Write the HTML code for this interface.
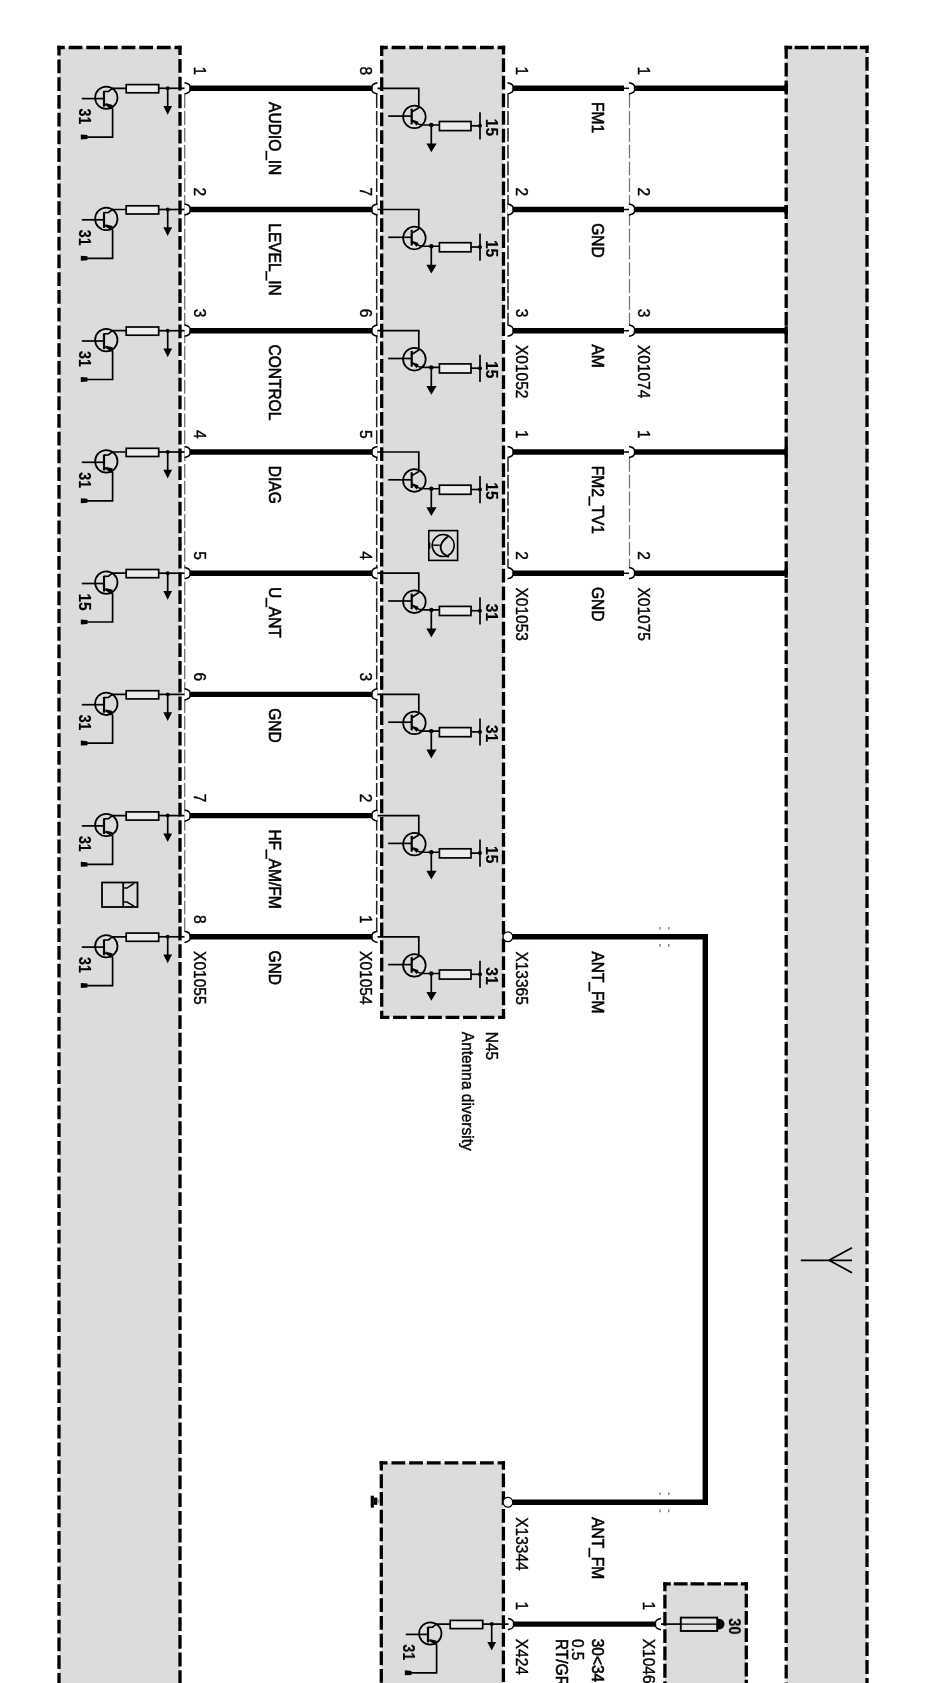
<!DOCTYPE html>
<html><head><meta charset="utf-8"><title>Antenna diversity wiring diagram</title>
<style>
html,body{margin:0;padding:0;background:#fff;}
body{width:937px;height:1683px;overflow:hidden;}
svg{display:block;font-family:"Liberation Sans",sans-serif;will-change:transform;}
</style></head><body>
<svg width="937" height="1683" viewBox="0 0 937 1683">
<defs><filter id="soft" x="0" y="0" width="937" height="1683" filterUnits="userSpaceOnUse"><feGaussianBlur stdDeviation="0.45"/></filter></defs>
<rect x="0" y="0" width="937" height="1683" fill="#fff"/>
<g stroke="#000" fill="none" filter="url(#soft)">
<rect x="59" y="47.5" width="121.00" height="1652.50" fill="#dcdcdc" stroke="none"/>
<line x1="59.00" y1="45.85" x2="59.00" y2="1700.00" stroke-width="3.3" stroke-dasharray="13.8 3.930" stroke-dashoffset="4.115"/>
<line x1="180.00" y1="45.85" x2="180.00" y2="1700.00" stroke-width="3.3" stroke-dasharray="13.8 3.907" stroke-dashoffset="4.604"/>
<line x1="57.35" y1="47.50" x2="181.65" y2="47.50" stroke-width="3.3" stroke-dasharray="13.8 3.850" stroke-dashoffset="6.375"/>
<rect x="381.7" y="47.5" width="121.80" height="969.90" fill="#dcdcdc" stroke="none"/>
<line x1="381.70" y1="45.85" x2="381.70" y2="1019.05" stroke-width="3.3" stroke-dasharray="13.8 3.810" stroke-dashoffset="3.755"/>
<line x1="503.50" y1="45.85" x2="503.50" y2="1019.05" stroke-width="3.3" stroke-dasharray="13.8 3.807" stroke-dashoffset="5.254"/>
<line x1="380.05" y1="47.50" x2="505.15" y2="47.50" stroke-width="3.3" stroke-dasharray="13.8 3.870" stroke-dashoffset="6.085"/>
<line x1="380.05" y1="1017.40" x2="505.15" y2="1017.40" stroke-width="3.3" stroke-dasharray="13.8 3.700" stroke-dashoffset="4.500"/>
<rect x="786.2" y="47.5" width="80.80" height="1652.50" fill="#dcdcdc" stroke="none"/>
<line x1="786.20" y1="45.85" x2="786.20" y2="1700.00" stroke-width="3.3" stroke-dasharray="13.8 4.000" stroke-dashoffset="0.850"/>
<line x1="867.00" y1="45.85" x2="867.00" y2="1700.00" stroke-width="3.3" stroke-dasharray="13.8 4.013" stroke-dashoffset="6.757"/>
<line x1="784.55" y1="47.50" x2="868.65" y2="47.50" stroke-width="3.3" stroke-dasharray="13.8 2.500" stroke-dashoffset="6.200"/>
<rect x="381.3" y="1462.8" width="122.10" height="237.20" fill="#dcdcdc" stroke="none"/>
<line x1="381.30" y1="1461.15" x2="381.30" y2="1700.00" stroke-width="3.3" stroke-dasharray="13.8 3.900" stroke-dashoffset="4.500"/>
<line x1="503.40" y1="1461.15" x2="503.40" y2="1700.00" stroke-width="3.3" stroke-dasharray="13.8 3.900" stroke-dashoffset="5.300"/>
<line x1="379.65" y1="1462.80" x2="505.05" y2="1462.80" stroke-width="3.3" stroke-dasharray="13.8 3.900" stroke-dashoffset="5.900"/>
<rect x="664.9" y="1583.8" width="81.40" height="116.20" fill="#dcdcdc" stroke="none"/>
<line x1="664.90" y1="1582.15" x2="664.90" y2="1700.00" stroke-width="3.3" stroke-dasharray="13.8 3.500" stroke-dashoffset="4.800"/>
<line x1="746.30" y1="1582.15" x2="746.30" y2="1700.00" stroke-width="3.3" stroke-dasharray="13.8 3.400" stroke-dashoffset="5.550"/>
<line x1="663.25" y1="1583.80" x2="747.95" y2="1583.80" stroke-width="3.3" stroke-dasharray="13.8 2.950" stroke-dashoffset="6.225"/>
<line x1="184.7" y1="94.3" x2="184.7" y2="930.8" stroke="#777" stroke-width="1.3" stroke-dasharray="13.8 3"/>
<line x1="376.7" y1="94.3" x2="376.7" y2="930.8" stroke="#222" stroke-width="1.5" stroke-dasharray="13.8 3"/>
<line x1="508" y1="94.3" x2="508" y2="324.7" stroke="#222" stroke-width="1.5" stroke-dasharray="13.8 3"/>
<line x1="508" y1="458" x2="508" y2="567.2" stroke="#222" stroke-width="1.5" stroke-dasharray="13.8 3"/>
<line x1="629.5" y1="94.3" x2="629.5" y2="324.7" stroke="#777" stroke-width="1.3" stroke-dasharray="13.8 3"/>
<line x1="629.5" y1="458" x2="629.5" y2="567.2" stroke="#777" stroke-width="1.3" stroke-dasharray="13.8 3"/>
<line x1="189.5" y1="88.3" x2="373.0" y2="88.3" stroke-width="5.4"/>
<path d="M184.5,82.7 Q191.0,83.8 190.0,88.3 Q191.0,92.8 184.5,93.9" fill="#fff" stroke-width="1.5"/>
<path d="M377.5,82.7 Q371.0,83.8 372.0,88.3 Q371.0,92.8 377.5,93.9" fill="#fff" stroke-width="1.5"/>
<line x1="189.5" y1="209.5" x2="373.0" y2="209.5" stroke-width="5.4"/>
<path d="M184.5,203.9 Q191.0,205.0 190.0,209.5 Q191.0,214.0 184.5,215.1" fill="#fff" stroke-width="1.5"/>
<path d="M377.5,203.9 Q371.0,205.0 372.0,209.5 Q371.0,214.0 377.5,215.1" fill="#fff" stroke-width="1.5"/>
<line x1="189.5" y1="330.7" x2="373.0" y2="330.7" stroke-width="5.4"/>
<path d="M184.5,325.1 Q191.0,326.2 190.0,330.7 Q191.0,335.2 184.5,336.3" fill="#fff" stroke-width="1.5"/>
<path d="M377.5,325.1 Q371.0,326.2 372.0,330.7 Q371.0,335.2 377.5,336.3" fill="#fff" stroke-width="1.5"/>
<line x1="189.5" y1="452.0" x2="373.0" y2="452.0" stroke-width="5.4"/>
<path d="M184.5,446.4 Q191.0,447.5 190.0,452.0 Q191.0,456.5 184.5,457.6" fill="#fff" stroke-width="1.5"/>
<path d="M377.5,446.4 Q371.0,447.5 372.0,452.0 Q371.0,456.5 377.5,457.6" fill="#fff" stroke-width="1.5"/>
<line x1="189.5" y1="573.2" x2="373.0" y2="573.2" stroke-width="5.4"/>
<path d="M184.5,567.6 Q191.0,568.7 190.0,573.2 Q191.0,577.7 184.5,578.8" fill="#fff" stroke-width="1.5"/>
<path d="M377.5,567.6 Q371.0,568.7 372.0,573.2 Q371.0,577.7 377.5,578.8" fill="#fff" stroke-width="1.5"/>
<line x1="189.5" y1="694.4" x2="373.0" y2="694.4" stroke-width="5.4"/>
<path d="M184.5,688.8 Q191.0,689.9 190.0,694.4 Q191.0,698.9 184.5,700.0" fill="#fff" stroke-width="1.5"/>
<path d="M377.5,688.8 Q371.0,689.9 372.0,694.4 Q371.0,698.9 377.5,700.0" fill="#fff" stroke-width="1.5"/>
<line x1="189.5" y1="815.6" x2="373.0" y2="815.6" stroke-width="5.4"/>
<path d="M184.5,810.0 Q191.0,811.1 190.0,815.6 Q191.0,820.1 184.5,821.2" fill="#fff" stroke-width="1.5"/>
<path d="M377.5,810.0 Q371.0,811.1 372.0,815.6 Q371.0,820.1 377.5,821.2" fill="#fff" stroke-width="1.5"/>
<line x1="189.5" y1="936.8" x2="373.0" y2="936.8" stroke-width="5.4"/>
<path d="M184.5,931.2 Q191.0,932.3 190.0,936.8 Q191.0,941.3 184.5,942.4" fill="#fff" stroke-width="1.5"/>
<path d="M377.5,931.2 Q371.0,932.3 372.0,936.8 Q371.0,941.3 377.5,942.4" fill="#fff" stroke-width="1.5"/>
<line x1="512.0" y1="88.3" x2="624.0" y2="88.3" stroke-width="5.4"/>
<line x1="634.2" y1="88.3" x2="786.0" y2="88.3" stroke-width="5.4"/>
<path d="M507.5,82.7 Q514.0,83.8 513.0,88.3 Q514.0,92.8 507.5,93.9" fill="#fff" stroke-width="1.5"/>
<line x1="624.0" y1="88.3" x2="629.0" y2="88.3" stroke-width="1.5"/>
<path d="M629.0,82.7 Q635.5,83.8 634.5,88.3 Q635.5,92.8 629.0,93.9" fill="#fff" stroke-width="1.5"/>
<line x1="786.2" y1="83.8" x2="786.2" y2="92.8" stroke-width="3.3"/>
<line x1="512.0" y1="209.5" x2="624.0" y2="209.5" stroke-width="5.4"/>
<line x1="634.2" y1="209.5" x2="786.0" y2="209.5" stroke-width="5.4"/>
<path d="M507.5,203.9 Q514.0,205.0 513.0,209.5 Q514.0,214.0 507.5,215.1" fill="#fff" stroke-width="1.5"/>
<line x1="624.0" y1="209.5" x2="629.0" y2="209.5" stroke-width="1.5"/>
<path d="M629.0,203.9 Q635.5,205.0 634.5,209.5 Q635.5,214.0 629.0,215.1" fill="#fff" stroke-width="1.5"/>
<line x1="786.2" y1="205.0" x2="786.2" y2="214.0" stroke-width="3.3"/>
<line x1="512.0" y1="330.7" x2="624.0" y2="330.7" stroke-width="5.4"/>
<line x1="634.2" y1="330.7" x2="786.0" y2="330.7" stroke-width="5.4"/>
<path d="M507.5,325.1 Q514.0,326.2 513.0,330.7 Q514.0,335.2 507.5,336.3" fill="#fff" stroke-width="1.5"/>
<line x1="624.0" y1="330.7" x2="629.0" y2="330.7" stroke-width="1.5"/>
<path d="M629.0,325.1 Q635.5,326.2 634.5,330.7 Q635.5,335.2 629.0,336.3" fill="#fff" stroke-width="1.5"/>
<line x1="786.2" y1="326.2" x2="786.2" y2="335.2" stroke-width="3.3"/>
<line x1="512.0" y1="452.0" x2="624.0" y2="452.0" stroke-width="5.4"/>
<line x1="634.2" y1="452.0" x2="786.0" y2="452.0" stroke-width="5.4"/>
<path d="M507.5,446.4 Q514.0,447.5 513.0,452.0 Q514.0,456.5 507.5,457.6" fill="#fff" stroke-width="1.5"/>
<line x1="624.0" y1="452.0" x2="629.0" y2="452.0" stroke-width="1.5"/>
<path d="M629.0,446.4 Q635.5,447.5 634.5,452.0 Q635.5,456.5 629.0,457.6" fill="#fff" stroke-width="1.5"/>
<line x1="786.2" y1="447.5" x2="786.2" y2="456.5" stroke-width="3.3"/>
<line x1="512.0" y1="573.2" x2="624.0" y2="573.2" stroke-width="5.4"/>
<line x1="634.2" y1="573.2" x2="786.0" y2="573.2" stroke-width="5.4"/>
<path d="M507.5,567.6 Q514.0,568.7 513.0,573.2 Q514.0,577.7 507.5,578.8" fill="#fff" stroke-width="1.5"/>
<line x1="624.0" y1="573.2" x2="629.0" y2="573.2" stroke-width="1.5"/>
<path d="M629.0,567.6 Q635.5,568.7 634.5,573.2 Q635.5,577.7 629.0,578.8" fill="#fff" stroke-width="1.5"/>
<line x1="786.2" y1="568.7" x2="786.2" y2="577.7" stroke-width="3.3"/>
<polyline points="512.5,936.8 705.3,936.8 705.3,1502.3 512.5,1502.3" fill="none" stroke-width="5.4"/>
<circle cx="507.9" cy="936.8" r="4.9" stroke-width="1.3" fill="#fff"/>
<circle cx="507.9" cy="1502.3" r="4.9" stroke-width="1.3" fill="#fff"/>
<line x1="513.0" y1="1624.1" x2="655.0" y2="1624.1" stroke-width="5.4"/>
<path d="M508.0,1618.5 Q514.5,1619.6 513.5,1624.1 Q514.5,1628.6 508.0,1629.7" fill="#fff" stroke-width="1.5"/>
<path d="M661.0,1618.5 Q654.5,1619.6 655.5,1624.1 Q654.5,1628.6 661.0,1629.7" fill="#fff" stroke-width="1.5"/>
<circle cx="106.3" cy="97.7" r="11.2" stroke-width="1.75" fill="none"/>
<line x1="81.8" y1="98.6" x2="104.0" y2="98.6" stroke-width="1.7"/>
<line x1="104.0" y1="90.9" x2="104.0" y2="106.7" stroke-width="2.2"/>
<polyline points="104.0,91.5 108.5,91.3 112.3,88.3 126.0,88.3" stroke-width="1.7" fill="none"/>
<line x1="104.0" y1="103.8" x2="112.6" y2="108.6" stroke-width="1.6"/>
<polygon points="105.5,103.1 112.8,104.9 110.5,109.3" fill="#000" stroke="none"/>
<polyline points="112.6,108.3 112.6,137.1 84.0,137.1" stroke-width="1.7" fill="none"/>
<polygon points="80.8,134.5 87.5,135.1 87.5,139.1 80.8,139.5" fill="#000" stroke="none"/>
<rect x="126.2" y="84.6" width="32.5" height="8.2" stroke-width="1.7" fill="#ececec"/>
<line x1="158.7" y1="88.3" x2="184.5" y2="88.3" stroke-width="1.7"/>
<circle cx="167.7" cy="88.3" r="2" fill="#000" stroke="none"/>
<line x1="167.7" y1="88.3" x2="167.7" y2="107.3" stroke-width="1.7"/>
<polygon points="163.3,106.1 172.1,106.1 167.7,114.8" fill="#000" stroke="none"/>
<text fill="#000" stroke="#000" stroke-width="0.2" transform="translate(79.0,108.6) rotate(90) scale(0.86,1)" font-size="16.5" font-weight="700">31</text>
<circle cx="106.3" cy="218.9" r="11.2" stroke-width="1.75" fill="none"/>
<line x1="81.8" y1="219.8" x2="104.0" y2="219.8" stroke-width="1.7"/>
<line x1="104.0" y1="212.1" x2="104.0" y2="227.9" stroke-width="2.2"/>
<polyline points="104.0,212.7 108.5,212.5 112.3,209.5 126.0,209.5" stroke-width="1.7" fill="none"/>
<line x1="104.0" y1="225.0" x2="112.6" y2="229.8" stroke-width="1.6"/>
<polygon points="105.5,224.3 112.8,226.1 110.5,230.5" fill="#000" stroke="none"/>
<polyline points="112.6,229.5 112.6,258.3 84.0,258.3" stroke-width="1.7" fill="none"/>
<polygon points="80.8,255.7 87.5,256.3 87.5,260.3 80.8,260.7" fill="#000" stroke="none"/>
<rect x="126.2" y="205.8" width="32.5" height="8.2" stroke-width="1.7" fill="#ececec"/>
<line x1="158.7" y1="209.5" x2="184.5" y2="209.5" stroke-width="1.7"/>
<circle cx="167.7" cy="209.5" r="2" fill="#000" stroke="none"/>
<line x1="167.7" y1="209.5" x2="167.7" y2="228.5" stroke-width="1.7"/>
<polygon points="163.3,227.3 172.1,227.3 167.7,236.0" fill="#000" stroke="none"/>
<text fill="#000" stroke="#000" stroke-width="0.2" transform="translate(79.0,229.8) rotate(90) scale(0.86,1)" font-size="16.5" font-weight="700">31</text>
<circle cx="106.3" cy="340.1" r="11.2" stroke-width="1.75" fill="none"/>
<line x1="81.8" y1="341.0" x2="104.0" y2="341.0" stroke-width="1.7"/>
<line x1="104.0" y1="333.3" x2="104.0" y2="349.1" stroke-width="2.2"/>
<polyline points="104.0,333.9 108.5,333.7 112.3,330.7 126.0,330.7" stroke-width="1.7" fill="none"/>
<line x1="104.0" y1="346.2" x2="112.6" y2="351.0" stroke-width="1.6"/>
<polygon points="105.5,345.5 112.8,347.3 110.5,351.7" fill="#000" stroke="none"/>
<polyline points="112.6,350.7 112.6,379.5 84.0,379.5" stroke-width="1.7" fill="none"/>
<polygon points="80.8,376.9 87.5,377.5 87.5,381.5 80.8,381.9" fill="#000" stroke="none"/>
<rect x="126.2" y="327.0" width="32.5" height="8.2" stroke-width="1.7" fill="#ececec"/>
<line x1="158.7" y1="330.7" x2="184.5" y2="330.7" stroke-width="1.7"/>
<circle cx="167.7" cy="330.7" r="2" fill="#000" stroke="none"/>
<line x1="167.7" y1="330.7" x2="167.7" y2="349.7" stroke-width="1.7"/>
<polygon points="163.3,348.5 172.1,348.5 167.7,357.2" fill="#000" stroke="none"/>
<text fill="#000" stroke="#000" stroke-width="0.2" transform="translate(79.0,351.0) rotate(90) scale(0.86,1)" font-size="16.5" font-weight="700">31</text>
<circle cx="106.3" cy="461.4" r="11.2" stroke-width="1.75" fill="none"/>
<line x1="81.8" y1="462.3" x2="104.0" y2="462.3" stroke-width="1.7"/>
<line x1="104.0" y1="454.6" x2="104.0" y2="470.4" stroke-width="2.2"/>
<polyline points="104.0,455.2 108.5,455.0 112.3,452.0 126.0,452.0" stroke-width="1.7" fill="none"/>
<line x1="104.0" y1="467.5" x2="112.6" y2="472.3" stroke-width="1.6"/>
<polygon points="105.5,466.8 112.8,468.6 110.5,473.0" fill="#000" stroke="none"/>
<polyline points="112.6,472.0 112.6,500.8 84.0,500.8" stroke-width="1.7" fill="none"/>
<polygon points="80.8,498.2 87.5,498.8 87.5,502.8 80.8,503.2" fill="#000" stroke="none"/>
<rect x="126.2" y="448.3" width="32.5" height="8.2" stroke-width="1.7" fill="#ececec"/>
<line x1="158.7" y1="452.0" x2="184.5" y2="452.0" stroke-width="1.7"/>
<circle cx="167.7" cy="452.0" r="2" fill="#000" stroke="none"/>
<line x1="167.7" y1="452.0" x2="167.7" y2="471.0" stroke-width="1.7"/>
<polygon points="163.3,469.8 172.1,469.8 167.7,478.5" fill="#000" stroke="none"/>
<text fill="#000" stroke="#000" stroke-width="0.2" transform="translate(79.0,472.3) rotate(90) scale(0.86,1)" font-size="16.5" font-weight="700">31</text>
<circle cx="106.3" cy="582.6" r="11.2" stroke-width="1.75" fill="none"/>
<line x1="81.8" y1="583.5" x2="104.0" y2="583.5" stroke-width="1.7"/>
<line x1="104.0" y1="575.8" x2="104.0" y2="591.6" stroke-width="2.2"/>
<polyline points="104.0,576.4 108.5,576.2 112.3,573.2 126.0,573.2" stroke-width="1.7" fill="none"/>
<line x1="104.0" y1="588.7" x2="112.6" y2="593.5" stroke-width="1.6"/>
<polygon points="105.5,588.0 112.8,589.8 110.5,594.2" fill="#000" stroke="none"/>
<polyline points="112.6,593.2 112.6,622.0 84.0,622.0" stroke-width="1.7" fill="none"/>
<polygon points="80.8,619.4 87.5,620.0 87.5,624.0 80.8,624.4" fill="#000" stroke="none"/>
<rect x="126.2" y="569.5" width="32.5" height="8.2" stroke-width="1.7" fill="#ececec"/>
<line x1="158.7" y1="573.2" x2="184.5" y2="573.2" stroke-width="1.7"/>
<circle cx="167.7" cy="573.2" r="2" fill="#000" stroke="none"/>
<line x1="167.7" y1="573.2" x2="167.7" y2="592.2" stroke-width="1.7"/>
<polygon points="163.3,591.0 172.1,591.0 167.7,599.7" fill="#000" stroke="none"/>
<text fill="#000" stroke="#000" stroke-width="0.2" transform="translate(79.0,593.5) rotate(90) scale(0.94,1)" font-size="16.5" font-weight="700">15</text>
<circle cx="106.3" cy="703.8" r="11.2" stroke-width="1.75" fill="none"/>
<line x1="81.8" y1="704.7" x2="104.0" y2="704.7" stroke-width="1.7"/>
<line x1="104.0" y1="697.0" x2="104.0" y2="712.8" stroke-width="2.2"/>
<polyline points="104.0,697.6 108.5,697.4 112.3,694.4 126.0,694.4" stroke-width="1.7" fill="none"/>
<line x1="104.0" y1="709.9" x2="112.6" y2="714.7" stroke-width="1.6"/>
<polygon points="105.5,709.2 112.8,711.0 110.5,715.4" fill="#000" stroke="none"/>
<polyline points="112.6,714.4 112.6,743.2 84.0,743.2" stroke-width="1.7" fill="none"/>
<polygon points="80.8,740.6 87.5,741.2 87.5,745.2 80.8,745.6" fill="#000" stroke="none"/>
<rect x="126.2" y="690.7" width="32.5" height="8.2" stroke-width="1.7" fill="#ececec"/>
<line x1="158.7" y1="694.4" x2="184.5" y2="694.4" stroke-width="1.7"/>
<circle cx="167.7" cy="694.4" r="2" fill="#000" stroke="none"/>
<line x1="167.7" y1="694.4" x2="167.7" y2="713.4" stroke-width="1.7"/>
<polygon points="163.3,712.2 172.1,712.2 167.7,720.9" fill="#000" stroke="none"/>
<text fill="#000" stroke="#000" stroke-width="0.2" transform="translate(79.0,714.7) rotate(90) scale(0.86,1)" font-size="16.5" font-weight="700">31</text>
<circle cx="106.3" cy="825.0" r="11.2" stroke-width="1.75" fill="none"/>
<line x1="81.8" y1="825.9" x2="104.0" y2="825.9" stroke-width="1.7"/>
<line x1="104.0" y1="818.2" x2="104.0" y2="834.0" stroke-width="2.2"/>
<polyline points="104.0,818.8 108.5,818.6 112.3,815.6 126.0,815.6" stroke-width="1.7" fill="none"/>
<line x1="104.0" y1="831.1" x2="112.6" y2="835.9" stroke-width="1.6"/>
<polygon points="105.5,830.4 112.8,832.2 110.5,836.6" fill="#000" stroke="none"/>
<polyline points="112.6,835.6 112.6,864.4 84.0,864.4" stroke-width="1.7" fill="none"/>
<polygon points="80.8,861.8 87.5,862.4 87.5,866.4 80.8,866.8" fill="#000" stroke="none"/>
<rect x="126.2" y="811.9" width="32.5" height="8.2" stroke-width="1.7" fill="#ececec"/>
<line x1="158.7" y1="815.6" x2="184.5" y2="815.6" stroke-width="1.7"/>
<circle cx="167.7" cy="815.6" r="2" fill="#000" stroke="none"/>
<line x1="167.7" y1="815.6" x2="167.7" y2="834.6" stroke-width="1.7"/>
<polygon points="163.3,833.4 172.1,833.4 167.7,842.1" fill="#000" stroke="none"/>
<text fill="#000" stroke="#000" stroke-width="0.2" transform="translate(79.0,835.9) rotate(90) scale(0.86,1)" font-size="16.5" font-weight="700">31</text>
<circle cx="106.3" cy="946.2" r="11.2" stroke-width="1.75" fill="none"/>
<line x1="81.8" y1="947.1" x2="104.0" y2="947.1" stroke-width="1.7"/>
<line x1="104.0" y1="939.4" x2="104.0" y2="955.2" stroke-width="2.2"/>
<polyline points="104.0,940.0 108.5,939.8 112.3,936.8 126.0,936.8" stroke-width="1.7" fill="none"/>
<line x1="104.0" y1="952.3" x2="112.6" y2="957.1" stroke-width="1.6"/>
<polygon points="105.5,951.6 112.8,953.4 110.5,957.8" fill="#000" stroke="none"/>
<polyline points="112.6,956.8 112.6,985.6 84.0,985.6" stroke-width="1.7" fill="none"/>
<polygon points="80.8,983.0 87.5,983.6 87.5,987.6 80.8,988.0" fill="#000" stroke="none"/>
<rect x="126.2" y="933.1" width="32.5" height="8.2" stroke-width="1.7" fill="#ececec"/>
<line x1="158.7" y1="936.8" x2="184.5" y2="936.8" stroke-width="1.7"/>
<circle cx="167.7" cy="936.8" r="2" fill="#000" stroke="none"/>
<line x1="167.7" y1="936.8" x2="167.7" y2="955.8" stroke-width="1.7"/>
<polygon points="163.3,954.6 172.1,954.6 167.7,963.3" fill="#000" stroke="none"/>
<text fill="#000" stroke="#000" stroke-width="0.2" transform="translate(79.0,957.1) rotate(90) scale(0.86,1)" font-size="16.5" font-weight="700">31</text>
<polyline points="377.5,88.3 418.8,88.3 418.8,107.9" stroke-width="1.7" fill="none"/>
<circle cx="414.4" cy="116.8" r="11.3" stroke-width="1.75" fill="none"/>
<line x1="388.2" y1="116.1" x2="411.7" y2="116.1" stroke-width="1.7"/>
<line x1="411.7" y1="108.6" x2="411.7" y2="124.3" stroke-width="2.2"/>
<line x1="411.7" y1="112.0" x2="418.8" y2="107.7" stroke-width="1.7"/>
<polyline points="411.7,120.8 419.0,124.3 424.0,125.0 439.4,125.0" stroke-width="1.6" fill="none"/>
<polygon points="411.5,119.3 418.5,121.8 416.5,125.8" fill="#000" stroke="none"/>
<circle cx="431.3" cy="125.0" r="2.2" fill="#000" stroke="none"/>
<line x1="431.3" y1="125.0" x2="431.3" y2="144.3" stroke-width="1.7"/>
<polygon points="426.4,143.5 436.6,143.5 431.3,152.3" fill="#000" stroke="none"/>
<rect x="439.4" y="121.5" width="31.6" height="9.1" stroke-width="1.7" fill="#ececec"/>
<line x1="471.0" y1="125.8" x2="480.0" y2="125.8" stroke-width="1.7"/>
<circle cx="480.0" cy="125.8" r="2" fill="#000" stroke="none"/>
<line x1="480.0" y1="112.3" x2="480.0" y2="139.5" stroke-width="1.7"/>
<text fill="#000" stroke="#000" stroke-width="0.2" transform="translate(486.4,118.8) rotate(90) scale(0.94,1)" font-size="16.5" font-weight="700">15</text>
<polyline points="377.5,209.5 418.8,209.5 418.8,229.1" stroke-width="1.7" fill="none"/>
<circle cx="414.4" cy="238.0" r="11.3" stroke-width="1.75" fill="none"/>
<line x1="388.2" y1="237.3" x2="411.7" y2="237.3" stroke-width="1.7"/>
<line x1="411.7" y1="229.8" x2="411.7" y2="245.5" stroke-width="2.2"/>
<line x1="411.7" y1="233.2" x2="418.8" y2="228.9" stroke-width="1.7"/>
<polyline points="411.7,242.0 419.0,245.5 424.0,246.2 439.4,246.2" stroke-width="1.6" fill="none"/>
<polygon points="411.5,240.5 418.5,243.0 416.5,247.0" fill="#000" stroke="none"/>
<circle cx="431.3" cy="246.2" r="2.2" fill="#000" stroke="none"/>
<line x1="431.3" y1="246.2" x2="431.3" y2="265.5" stroke-width="1.7"/>
<polygon points="426.4,264.7 436.6,264.7 431.3,273.5" fill="#000" stroke="none"/>
<rect x="439.4" y="242.7" width="31.6" height="9.1" stroke-width="1.7" fill="#ececec"/>
<line x1="471.0" y1="247.0" x2="480.0" y2="247.0" stroke-width="1.7"/>
<circle cx="480.0" cy="247.0" r="2" fill="#000" stroke="none"/>
<line x1="480.0" y1="233.5" x2="480.0" y2="260.7" stroke-width="1.7"/>
<text fill="#000" stroke="#000" stroke-width="0.2" transform="translate(486.4,240.0) rotate(90) scale(0.94,1)" font-size="16.5" font-weight="700">15</text>
<polyline points="377.5,330.7 418.8,330.7 418.8,350.3" stroke-width="1.7" fill="none"/>
<circle cx="414.4" cy="359.2" r="11.3" stroke-width="1.75" fill="none"/>
<line x1="388.2" y1="358.5" x2="411.7" y2="358.5" stroke-width="1.7"/>
<line x1="411.7" y1="351.0" x2="411.7" y2="366.7" stroke-width="2.2"/>
<line x1="411.7" y1="354.4" x2="418.8" y2="350.1" stroke-width="1.7"/>
<polyline points="411.7,363.2 419.0,366.7 424.0,367.4 439.4,367.4" stroke-width="1.6" fill="none"/>
<polygon points="411.5,361.7 418.5,364.2 416.5,368.2" fill="#000" stroke="none"/>
<circle cx="431.3" cy="367.4" r="2.2" fill="#000" stroke="none"/>
<line x1="431.3" y1="367.4" x2="431.3" y2="386.7" stroke-width="1.7"/>
<polygon points="426.4,385.9 436.6,385.9 431.3,394.7" fill="#000" stroke="none"/>
<rect x="439.4" y="363.9" width="31.6" height="9.1" stroke-width="1.7" fill="#ececec"/>
<line x1="471.0" y1="368.2" x2="480.0" y2="368.2" stroke-width="1.7"/>
<circle cx="480.0" cy="368.2" r="2" fill="#000" stroke="none"/>
<line x1="480.0" y1="354.7" x2="480.0" y2="381.9" stroke-width="1.7"/>
<text fill="#000" stroke="#000" stroke-width="0.2" transform="translate(486.4,361.2) rotate(90) scale(0.94,1)" font-size="16.5" font-weight="700">15</text>
<polyline points="377.5,452.0 418.8,452.0 418.8,471.6" stroke-width="1.7" fill="none"/>
<circle cx="414.4" cy="480.5" r="11.3" stroke-width="1.75" fill="none"/>
<line x1="388.2" y1="479.8" x2="411.7" y2="479.8" stroke-width="1.7"/>
<line x1="411.7" y1="472.3" x2="411.7" y2="488.0" stroke-width="2.2"/>
<line x1="411.7" y1="475.7" x2="418.8" y2="471.4" stroke-width="1.7"/>
<polyline points="411.7,484.5 419.0,488.0 424.0,488.7 439.4,488.7" stroke-width="1.6" fill="none"/>
<polygon points="411.5,483.0 418.5,485.5 416.5,489.5" fill="#000" stroke="none"/>
<circle cx="431.3" cy="488.7" r="2.2" fill="#000" stroke="none"/>
<line x1="431.3" y1="488.7" x2="431.3" y2="508.0" stroke-width="1.7"/>
<polygon points="426.4,507.2 436.6,507.2 431.3,516.0" fill="#000" stroke="none"/>
<rect x="439.4" y="485.2" width="31.6" height="9.1" stroke-width="1.7" fill="#ececec"/>
<line x1="471.0" y1="489.5" x2="480.0" y2="489.5" stroke-width="1.7"/>
<circle cx="480.0" cy="489.5" r="2" fill="#000" stroke="none"/>
<line x1="480.0" y1="476.0" x2="480.0" y2="503.2" stroke-width="1.7"/>
<text fill="#000" stroke="#000" stroke-width="0.2" transform="translate(486.4,482.5) rotate(90) scale(0.94,1)" font-size="16.5" font-weight="700">15</text>
<polyline points="377.5,573.2 418.8,573.2 418.8,592.8" stroke-width="1.7" fill="none"/>
<circle cx="414.4" cy="601.7" r="11.3" stroke-width="1.75" fill="none"/>
<line x1="388.2" y1="601.0" x2="411.7" y2="601.0" stroke-width="1.7"/>
<line x1="411.7" y1="593.5" x2="411.7" y2="609.2" stroke-width="2.2"/>
<line x1="411.7" y1="596.9" x2="418.8" y2="592.6" stroke-width="1.7"/>
<polyline points="411.7,605.7 419.0,609.2 424.0,609.9 439.4,609.9" stroke-width="1.6" fill="none"/>
<polygon points="411.5,604.2 418.5,606.7 416.5,610.7" fill="#000" stroke="none"/>
<circle cx="431.3" cy="609.9" r="2.2" fill="#000" stroke="none"/>
<line x1="431.3" y1="609.9" x2="431.3" y2="629.2" stroke-width="1.7"/>
<polygon points="426.4,628.4 436.6,628.4 431.3,637.2" fill="#000" stroke="none"/>
<rect x="439.4" y="606.4" width="31.6" height="9.1" stroke-width="1.7" fill="#ececec"/>
<line x1="471.0" y1="610.7" x2="480.0" y2="610.7" stroke-width="1.7"/>
<circle cx="480.0" cy="610.7" r="2" fill="#000" stroke="none"/>
<line x1="480.0" y1="597.2" x2="480.0" y2="624.4" stroke-width="1.7"/>
<text fill="#000" stroke="#000" stroke-width="0.2" transform="translate(486.4,603.7) rotate(90) scale(0.94,1)" font-size="16.5" font-weight="700">31</text>
<polyline points="377.5,694.4 418.8,694.4 418.8,714.0" stroke-width="1.7" fill="none"/>
<circle cx="414.4" cy="722.9" r="11.3" stroke-width="1.75" fill="none"/>
<line x1="388.2" y1="722.2" x2="411.7" y2="722.2" stroke-width="1.7"/>
<line x1="411.7" y1="714.7" x2="411.7" y2="730.4" stroke-width="2.2"/>
<line x1="411.7" y1="718.1" x2="418.8" y2="713.8" stroke-width="1.7"/>
<polyline points="411.7,726.9 419.0,730.4 424.0,731.1 439.4,731.1" stroke-width="1.6" fill="none"/>
<polygon points="411.5,725.4 418.5,727.9 416.5,731.9" fill="#000" stroke="none"/>
<circle cx="431.3" cy="731.1" r="2.2" fill="#000" stroke="none"/>
<line x1="431.3" y1="731.1" x2="431.3" y2="750.4" stroke-width="1.7"/>
<polygon points="426.4,749.6 436.6,749.6 431.3,758.4" fill="#000" stroke="none"/>
<rect x="439.4" y="727.6" width="31.6" height="9.1" stroke-width="1.7" fill="#ececec"/>
<line x1="471.0" y1="731.9" x2="480.0" y2="731.9" stroke-width="1.7"/>
<circle cx="480.0" cy="731.9" r="2" fill="#000" stroke="none"/>
<line x1="480.0" y1="718.4" x2="480.0" y2="745.6" stroke-width="1.7"/>
<text fill="#000" stroke="#000" stroke-width="0.2" transform="translate(486.4,724.9) rotate(90) scale(0.94,1)" font-size="16.5" font-weight="700">31</text>
<polyline points="377.5,815.6 418.8,815.6 418.8,835.2" stroke-width="1.7" fill="none"/>
<circle cx="414.4" cy="844.1" r="11.3" stroke-width="1.75" fill="none"/>
<line x1="388.2" y1="843.4" x2="411.7" y2="843.4" stroke-width="1.7"/>
<line x1="411.7" y1="835.9" x2="411.7" y2="851.6" stroke-width="2.2"/>
<line x1="411.7" y1="839.3" x2="418.8" y2="835.0" stroke-width="1.7"/>
<polyline points="411.7,848.1 419.0,851.6 424.0,852.3 439.4,852.3" stroke-width="1.6" fill="none"/>
<polygon points="411.5,846.6 418.5,849.1 416.5,853.1" fill="#000" stroke="none"/>
<circle cx="431.3" cy="852.3" r="2.2" fill="#000" stroke="none"/>
<line x1="431.3" y1="852.3" x2="431.3" y2="871.6" stroke-width="1.7"/>
<polygon points="426.4,870.8 436.6,870.8 431.3,879.6" fill="#000" stroke="none"/>
<rect x="439.4" y="848.8" width="31.6" height="9.1" stroke-width="1.7" fill="#ececec"/>
<line x1="471.0" y1="853.1" x2="480.0" y2="853.1" stroke-width="1.7"/>
<circle cx="480.0" cy="853.1" r="2" fill="#000" stroke="none"/>
<line x1="480.0" y1="839.6" x2="480.0" y2="866.8" stroke-width="1.7"/>
<text fill="#000" stroke="#000" stroke-width="0.2" transform="translate(486.4,846.1) rotate(90) scale(0.94,1)" font-size="16.5" font-weight="700">15</text>
<polyline points="377.5,936.8 418.8,936.8 418.8,956.4" stroke-width="1.7" fill="none"/>
<circle cx="414.4" cy="965.3" r="11.3" stroke-width="1.75" fill="none"/>
<line x1="388.2" y1="964.6" x2="411.7" y2="964.6" stroke-width="1.7"/>
<line x1="411.7" y1="957.1" x2="411.7" y2="972.8" stroke-width="2.2"/>
<line x1="411.7" y1="960.5" x2="418.8" y2="956.2" stroke-width="1.7"/>
<polyline points="411.7,969.3 419.0,972.8 424.0,973.5 439.4,973.5" stroke-width="1.6" fill="none"/>
<polygon points="411.5,967.8 418.5,970.3 416.5,974.3" fill="#000" stroke="none"/>
<circle cx="431.3" cy="973.5" r="2.2" fill="#000" stroke="none"/>
<line x1="431.3" y1="973.5" x2="431.3" y2="992.8" stroke-width="1.7"/>
<polygon points="426.4,992.0 436.6,992.0 431.3,1000.8" fill="#000" stroke="none"/>
<rect x="439.4" y="970.0" width="31.6" height="9.1" stroke-width="1.7" fill="#ececec"/>
<line x1="471.0" y1="974.3" x2="480.0" y2="974.3" stroke-width="1.7"/>
<circle cx="480.0" cy="974.3" r="2" fill="#000" stroke="none"/>
<line x1="480.0" y1="960.8" x2="480.0" y2="988.0" stroke-width="1.7"/>
<text fill="#000" stroke="#000" stroke-width="0.2" transform="translate(486.4,967.3) rotate(90) scale(0.94,1)" font-size="16.5" font-weight="700">31</text>
<g transform="translate(324,0)">
<circle cx="106.3" cy="1633.5" r="11.2" stroke-width="1.75" fill="none"/>
<line x1="81.8" y1="1634.4" x2="104.0" y2="1634.4" stroke-width="1.7"/>
<line x1="104.0" y1="1626.7" x2="104.0" y2="1642.5" stroke-width="2.2"/>
<polyline points="104.0,1627.3 108.5,1627.1 112.3,1624.1 126.0,1624.1" stroke-width="1.7" fill="none"/>
<line x1="104.0" y1="1639.6" x2="112.6" y2="1644.4" stroke-width="1.6"/>
<polygon points="105.5,1638.9 112.8,1640.7 110.5,1645.1" fill="#000" stroke="none"/>
<polyline points="112.6,1644.1 112.6,1672.9 84.0,1672.9" stroke-width="1.7" fill="none"/>
<polygon points="80.8,1670.3 87.5,1670.9 87.5,1674.9 80.8,1675.3" fill="#000" stroke="none"/>
<rect x="126.2" y="1620.4" width="32.5" height="8.2" stroke-width="1.7" fill="#ececec"/>
<line x1="158.7" y1="1624.1" x2="184.5" y2="1624.1" stroke-width="1.7"/>
<circle cx="167.7" cy="1624.1" r="2" fill="#000" stroke="none"/>
<line x1="167.7" y1="1624.1" x2="167.7" y2="1643.1" stroke-width="1.7"/>
<polygon points="163.3,1641.9 172.1,1641.9 167.7,1650.6" fill="#000" stroke="none"/>
<text fill="#000" stroke="#000" stroke-width="0.2" transform="translate(79.0,1644.4) rotate(90) scale(0.86,1)" font-size="16.5" font-weight="700">31</text>
</g>
<line x1="661.0" y1="1624.1" x2="680.6" y2="1624.1" stroke-width="1.7"/>
<rect x="680.8" y="1617.6" width="36.4" height="13.4" stroke-width="1.9" fill="#e2e2e2"/>
<line x1="680.6" y1="1624.1" x2="717.3" y2="1624.1" stroke-width="1.3"/>
<path d="M717.3,1618.8 Q724.5,1618.8 724.5,1624.1 Q724.5,1629.8 717.3,1629.8 Z" fill="#000" stroke="none"/>
<text fill="#000" stroke="#000" stroke-width="0.2" transform="translate(728.9,1618.3) rotate(90) scale(0.88,1)" font-size="16.5" font-weight="700">30</text>
<rect x="428.8" y="530.6" width="28.8" height="29.8" stroke-width="1.6" fill="none"/>
<circle cx="443.2" cy="545.6" r="11" stroke-width="1.5" fill="none"/>
<line x1="431.5" y1="545.2" x2="439.8" y2="545.2" stroke-width="1.4"/>
<line x1="429.3" y1="542.5" x2="429.3" y2="548.5" stroke-width="2.2"/>
<path d="M448,536.6 Q436.5,545 443,553.2 L448.8,557.3" fill="none" stroke-width="1.9"/>
<rect x="102.0" y="882.5" width="35.5" height="24.5" stroke-width="1.8" fill="none"/>
<line x1="123.2" y1="882.5" x2="123.2" y2="907.0" stroke-width="1.8"/>
<polyline points="123.2,888.0 127.0,888.0 134.0,883.3" stroke-width="1.5" fill="none"/>
<polyline points="123.2,902.0 127.0,902.0 134.0,906.2" stroke-width="1.5" fill="none"/>
<line x1="800.8" y1="1260.3" x2="852.0" y2="1260.3" stroke-width="1.8"/>
<line x1="829.0" y1="1260.3" x2="852.0" y2="1247.8" stroke-width="1.8"/>
<line x1="829.0" y1="1260.3" x2="852.0" y2="1272.8" stroke-width="1.8"/>
<rect x="370.7" y="1495.7" width="3.2" height="12" fill="#000" stroke="none"/>
<rect x="373.8" y="1497.6" width="3.6" height="7.2" fill="#000" stroke="none"/>
<rect x="377.4" y="1499" width="2.2" height="4.4" fill="#aaa" stroke="none"/>
<line x1="660.0" y1="926.9" x2="660.0" y2="929.5" stroke-width="1.2" stroke="#666"/>
<line x1="660.0" y1="944.1" x2="660.0" y2="946.7" stroke-width="1.2" stroke="#666"/>
<line x1="668.8" y1="926.9" x2="668.8" y2="929.5" stroke-width="1.2" stroke="#666"/>
<line x1="668.8" y1="944.1" x2="668.8" y2="946.7" stroke-width="1.2" stroke="#666"/>
<line x1="660.0" y1="1492.4" x2="660.0" y2="1495.0" stroke-width="1.2" stroke="#666"/>
<line x1="660.0" y1="1509.6" x2="660.0" y2="1512.2" stroke-width="1.2" stroke="#666"/>
<line x1="668.8" y1="1492.4" x2="668.8" y2="1495.0" stroke-width="1.2" stroke="#666"/>
<line x1="668.8" y1="1509.6" x2="668.8" y2="1512.2" stroke-width="1.2" stroke="#666"/>
<text fill="#000" stroke="#000" stroke-width="0.4" transform="translate(194.3,66.4) rotate(90) scale(0.94,1)" font-size="16.5">1</text>
<text fill="#000" stroke="#000" stroke-width="0.4" transform="translate(360.2,66.4) rotate(90) scale(0.94,1)" font-size="16.5">8</text>
<text fill="#000" stroke="#000" stroke-width="0.4" transform="translate(194.3,187.6) rotate(90) scale(0.94,1)" font-size="16.5">2</text>
<text fill="#000" stroke="#000" stroke-width="0.4" transform="translate(360.2,187.6) rotate(90) scale(0.94,1)" font-size="16.5">7</text>
<text fill="#000" stroke="#000" stroke-width="0.4" transform="translate(194.3,308.8) rotate(90) scale(0.94,1)" font-size="16.5">3</text>
<text fill="#000" stroke="#000" stroke-width="0.4" transform="translate(360.2,308.8) rotate(90) scale(0.94,1)" font-size="16.5">6</text>
<text fill="#000" stroke="#000" stroke-width="0.4" transform="translate(194.3,430.1) rotate(90) scale(0.94,1)" font-size="16.5">4</text>
<text fill="#000" stroke="#000" stroke-width="0.4" transform="translate(360.2,430.1) rotate(90) scale(0.94,1)" font-size="16.5">5</text>
<text fill="#000" stroke="#000" stroke-width="0.4" transform="translate(194.3,551.3) rotate(90) scale(0.94,1)" font-size="16.5">5</text>
<text fill="#000" stroke="#000" stroke-width="0.4" transform="translate(360.2,551.3) rotate(90) scale(0.94,1)" font-size="16.5">4</text>
<text fill="#000" stroke="#000" stroke-width="0.4" transform="translate(194.3,672.5) rotate(90) scale(0.94,1)" font-size="16.5">6</text>
<text fill="#000" stroke="#000" stroke-width="0.4" transform="translate(360.2,672.5) rotate(90) scale(0.94,1)" font-size="16.5">3</text>
<text fill="#000" stroke="#000" stroke-width="0.4" transform="translate(194.3,793.7) rotate(90) scale(0.94,1)" font-size="16.5">7</text>
<text fill="#000" stroke="#000" stroke-width="0.4" transform="translate(360.2,793.7) rotate(90) scale(0.94,1)" font-size="16.5">2</text>
<text fill="#000" stroke="#000" stroke-width="0.4" transform="translate(194.3,914.9) rotate(90) scale(0.94,1)" font-size="16.5">8</text>
<text fill="#000" stroke="#000" stroke-width="0.4" transform="translate(360.2,914.9) rotate(90) scale(0.94,1)" font-size="16.5">1</text>
<text fill="#000" stroke="#000" stroke-width="0.4" transform="translate(516.0,66.4) rotate(90) scale(0.94,1)" font-size="16.5">1</text>
<text fill="#000" stroke="#000" stroke-width="0.4" transform="translate(638.0,66.4) rotate(90) scale(0.94,1)" font-size="16.5">1</text>
<text fill="#000" stroke="#000" stroke-width="0.4" transform="translate(516.0,187.6) rotate(90) scale(0.94,1)" font-size="16.5">2</text>
<text fill="#000" stroke="#000" stroke-width="0.4" transform="translate(638.0,187.6) rotate(90) scale(0.94,1)" font-size="16.5">2</text>
<text fill="#000" stroke="#000" stroke-width="0.4" transform="translate(516.0,308.8) rotate(90) scale(0.94,1)" font-size="16.5">3</text>
<text fill="#000" stroke="#000" stroke-width="0.4" transform="translate(638.0,308.8) rotate(90) scale(0.94,1)" font-size="16.5">3</text>
<text fill="#000" stroke="#000" stroke-width="0.4" transform="translate(516.0,430.1) rotate(90) scale(0.94,1)" font-size="16.5">1</text>
<text fill="#000" stroke="#000" stroke-width="0.4" transform="translate(638.0,430.1) rotate(90) scale(0.94,1)" font-size="16.5">1</text>
<text fill="#000" stroke="#000" stroke-width="0.4" transform="translate(516.0,551.3) rotate(90) scale(0.94,1)" font-size="16.5">2</text>
<text fill="#000" stroke="#000" stroke-width="0.4" transform="translate(638.0,551.3) rotate(90) scale(0.94,1)" font-size="16.5">2</text>
<text fill="#000" stroke="#000" stroke-width="0.6" transform="translate(269.3,102.1) rotate(90) scale(0.94,1)" font-size="16.5">AUDIO_IN</text>
<text fill="#000" stroke="#000" stroke-width="0.6" transform="translate(269.3,223.3) rotate(90) scale(0.94,1)" font-size="16.5">LEVEL_IN</text>
<text fill="#000" stroke="#000" stroke-width="0.6" transform="translate(269.3,344.5) rotate(90) scale(0.94,1)" font-size="16.5">CONTROL</text>
<text fill="#000" stroke="#000" stroke-width="0.6" transform="translate(269.3,465.8) rotate(90) scale(0.94,1)" font-size="16.5">DIAG</text>
<text fill="#000" stroke="#000" stroke-width="0.6" transform="translate(269.3,587.0) rotate(90) scale(0.94,1)" font-size="16.5">U_ANT</text>
<text fill="#000" stroke="#000" stroke-width="0.6" transform="translate(269.3,708.2) rotate(90) scale(0.94,1)" font-size="16.5">GND</text>
<text fill="#000" stroke="#000" stroke-width="0.6" transform="translate(269.3,829.4) rotate(90) scale(0.94,1)" font-size="16.5">HF_AM/FM</text>
<text fill="#000" stroke="#000" stroke-width="0.6" transform="translate(269.3,950.6) rotate(90) scale(0.94,1)" font-size="16.5">GND</text>
<text fill="#000" stroke="#000" stroke-width="0.6" transform="translate(592.3,102.1) rotate(90) scale(0.94,1)" font-size="16.5">FM1</text>
<text fill="#000" stroke="#000" stroke-width="0.6" transform="translate(592.3,223.3) rotate(90) scale(0.94,1)" font-size="16.5">GND</text>
<text fill="#000" stroke="#000" stroke-width="0.6" transform="translate(592.3,344.5) rotate(90) scale(0.94,1)" font-size="16.5">AM</text>
<text fill="#000" stroke="#000" stroke-width="0.6" transform="translate(592.3,465.8) rotate(90) scale(0.94,1)" font-size="16.5">FM2_TV1</text>
<text fill="#000" stroke="#000" stroke-width="0.6" transform="translate(592.3,587.0) rotate(90) scale(0.94,1)" font-size="16.5">GND</text>
<text fill="#000" stroke="#000" stroke-width="0.4" transform="translate(516.0,345.0) rotate(90) scale(0.94,1)" font-size="16.5">X01052</text>
<text fill="#000" stroke="#000" stroke-width="0.4" transform="translate(638.0,345.0) rotate(90) scale(0.94,1)" font-size="16.5">X01074</text>
<text fill="#000" stroke="#000" stroke-width="0.4" transform="translate(516.0,587.5) rotate(90) scale(0.94,1)" font-size="16.5">X01053</text>
<text fill="#000" stroke="#000" stroke-width="0.4" transform="translate(638.0,587.5) rotate(90) scale(0.94,1)" font-size="16.5">X01075</text>
<text fill="#000" stroke="#000" stroke-width="0.4" transform="translate(194.3,951.1) rotate(90) scale(0.94,1)" font-size="16.5">X01055</text>
<text fill="#000" stroke="#000" stroke-width="0.4" transform="translate(360.2,951.1) rotate(90) scale(0.94,1)" font-size="16.5">X01054</text>
<text fill="#000" stroke="#000" stroke-width="0.4" transform="translate(516.0,951.4) rotate(90) scale(0.94,1)" font-size="16.5">X13365</text>
<text fill="#000" stroke="#000" stroke-width="0.6" transform="translate(592.3,951.4) rotate(90) scale(0.94,1)" font-size="16.5">ANT_FM</text>
<text fill="#000" stroke="#000" stroke-width="0.4" transform="translate(516.0,1517.2) rotate(90) scale(0.94,1)" font-size="16.5">X13344</text>
<text fill="#000" stroke="#000" stroke-width="0.6" transform="translate(592.3,1517.2) rotate(90) scale(0.94,1)" font-size="16.5">ANT_FM</text>
<text fill="#000" stroke="#000" stroke-width="0.4" transform="translate(516.0,1601.6) rotate(90) scale(0.94,1)" font-size="16.5">1</text>
<text fill="#000" stroke="#000" stroke-width="0.4" transform="translate(643.0,1601.6) rotate(90) scale(0.94,1)" font-size="16.5">1</text>
<text fill="#000" stroke="#000" stroke-width="0.4" transform="translate(516.0,1638.7) rotate(90) scale(0.94,1)" font-size="16.5">X424</text>
<text fill="#000" stroke="#000" stroke-width="0.4" transform="translate(643.0,1638.7) rotate(90) scale(0.94,1)" font-size="16.5">X1046</text>
<text fill="#000" stroke="#000" stroke-width="0.6" transform="translate(592.3,1638.7) rotate(90) scale(0.94,1)" font-size="16.5">30&lt;34</text>
<text fill="#000" stroke="#000" stroke-width="0.4" transform="translate(572.0,1638.9) rotate(90) scale(0.94,1)" font-size="16.5">0.5</text>
<text fill="#000" stroke="#000" stroke-width="0.6" transform="translate(556.2,1638.9) rotate(90) scale(0.94,1)" font-size="16.5">RT/GR</text>
<text fill="#000" stroke="#000" stroke-width="0.4" transform="translate(486.3,1031.8) rotate(90) scale(0.94,1)" font-size="16.5">N45</text>
<text fill="#000" stroke="#000" stroke-width="0.4" transform="translate(462.3,1031.8) rotate(90) scale(0.94,1)" font-size="16.5">Antenna diversity</text>
</g>
</svg>
</body></html>
